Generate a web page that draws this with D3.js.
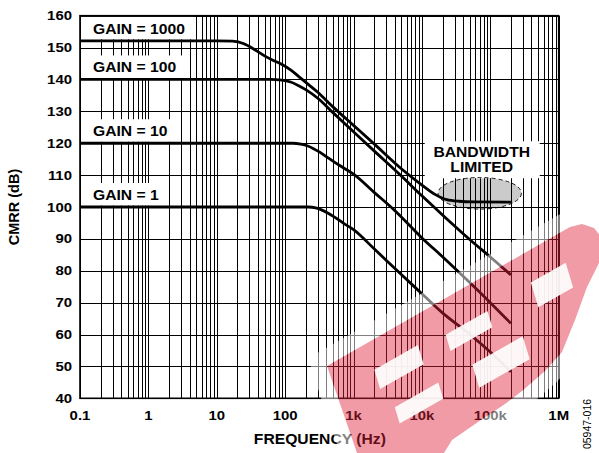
<!DOCTYPE html>
<html>
<head>
<meta charset="utf-8">
<script src="https://cdn.jsdelivr.net/npm/d3@7"></script>
<style>
  html, body { margin: 0; padding: 0; background: #fff; }
  svg { display: block; }
</style>
</head>
<body>
<svg id="chart" width="599" height="453"></svg>
<script>
// ---- data ----------------------------------------------------------
const freqTicks = [0.1, 1, 10, 100, 1e3, 1e4, 1e5, 1e6];
const freqTickLabels = ["0.1", "1", "10", "100", "1k", "10k", "100k", "1M"];
const cmrrTicks = [40, 50, 60, 70, 80, 90, 100, 110, 120, 130, 140, 150, 160];

const seriesLabels = ["GAIN = 1000", "GAIN = 100", "GAIN = 10", "GAIN = 1"];

// [frequency (Hz), CMRR (dB)]
const gain1000 = [[0.1,152.1],[10,152.1],[17,152],[25,151.2],[35,149.5],[50,147.4],[70,145.8],[90,144.7],[120,143],[165,140.6],[220,138.4],[300,136],[500,131.4],[1000,125.6],[2000,119.8],[5000,112],[10000,106.9],[16000,103.8],[23000,102.3],[35000,101.8],[60000,101.6],[200000,101.5]];
const gain100 = [[0.1,140],[60,140],[90,139.8],[120,139.2],[150,138.3],[200,136.8],[300,134.1],[500,129.6],[1000,123.6],[2000,117.6],[5000,109.7],[10000,103.5],[20000,97.5],[50000,89.8],[100000,84.3],[200000,78.7]];
const gain10 = [[0.1,120],[130,120],[170,119.7],[210,119.2],[260,118.3],[320,117.2],[400,115.8],[500,114.4],[700,112.4],[1000,110.3],[2000,104.6],[4000,98.9],[10000,90.3],[20000,84.4],[50000,76.3],[100000,70],[200000,63.5]];
const gain1 = [[0.1,100],[220,100],[280,99.7],[340,99.1],[420,98.1],[520,96.9],[700,95],[1000,92.9],[2000,86.9],[5000,78.8],[10000,72.8],[20000,66.8],[50000,60.1],[100000,54.5],[200000,48.3]];

const allSeries = [gain1000, gain100, gain10, gain1];

// ---- layout --------------------------------------------------------
const W = 599, H = 453;
const plot = { left: 80, right: 558.7, top: 15.7, bottom: 398.3 };
const FONT = "'Liberation Sans', Arial, Helvetica, sans-serif";
const SX = 1.12; // horizontal glyph stretch

const svg = d3.select("#chart");
const x = d3.scaleLog().domain([0.1, 1e6]).range([plot.left, plot.right]);
const y = d3.scaleLinear().domain([40, 160]).range([plot.bottom, plot.top]);

function label(g, px, py, str, size, anchor, weight, sx) {
  return g.append("text")
    .attr("transform", `translate(${px},${py}) scale(${sx},1)`)
    .attr("text-anchor", anchor)
    .attr("font-family", FONT)
    .attr("font-weight", weight)
    .attr("font-size", size)
    .attr("fill", "#000")
    .text(str);
}

// bandwidth-limited highlight (under the grid)
const bwFreq = 70000, bwLevel = 104.3;
svg.append("ellipse")
  .attr("cx", x(bwFreq)).attr("cy", y(bwLevel))
  .attr("rx", 41.7).attr("ry", 15.8)
  .attr("fill", "#cbcbcb");

// ---- grid ----------------------------------------------------------
const grid = svg.append("g").attr("shape-rendering", "crispEdges")
  .attr("stroke", "#000").attr("stroke-width", 1);

const minorFreqs = [];
for (let e = -1; e < 6; e++) for (let m = 1; m < 10; m++) minorFreqs.push(m * Math.pow(10, e));
minorFreqs.push(1e6);
grid.selectAll("line.v").data(minorFreqs).enter().append("line")
  .attr("x1", d => Math.round(x(d)) + 0.5).attr("x2", d => Math.round(x(d)) + 0.5)
  .attr("y1", plot.top).attr("y2", plot.bottom);
grid.selectAll("line.h").data(cmrrTicks).enter().append("line")
  .attr("x1", plot.left).attr("x2", plot.right)
  .attr("y1", d => Math.round(y(d)) + 0.5).attr("y2", d => Math.round(y(d)) + 0.5);

// ---- label boxes ---------------------------------------------------
const labelG = svg.append("g");
allSeries.forEach((s, i) => {
  const flat = s[0][1];
  const base = y(flat) - 7;
  const t = label(labelG, 93, base, seriesLabels[i], 14, "start", "bold", SX);
  const w = t.node().getComputedTextLength() * SX;
  const top = Math.max(plot.top + 1, y(flat) - 24);
  labelG.insert("rect", "text")
    .attr("x", plot.left + 1).attr("y", top)
    .attr("width", 93 + w + 7 - plot.left).attr("height", y(flat) - 1.5 - top)
    .attr("fill", "#fff");
});

// "BANDWIDTH LIMITED" note
const noteG = svg.append("g");
const noteX = x(bwFreq) + 2;
noteG.append("rect")
  .attr("x", noteX - 57).attr("y", y(120) - 2)
  .attr("width", 115).attr("height", 37)
  .attr("fill", "#fff");
label(noteG, noteX, y(120) + 13.4, "BANDWIDTH", 14, "middle", "bold", SX);
label(noteG, noteX, y(120) + 29, "LIMITED", 14, "middle", "bold", SX);

svg.append("ellipse")
  .attr("cx", x(bwFreq)).attr("cy", y(bwLevel))
  .attr("rx", 41.7).attr("ry", 15.8)
  .attr("fill", "none").attr("stroke", "#000")
  .attr("stroke-width", 0.9).attr("stroke-dasharray", "4,3");

// ---- curves --------------------------------------------------------
const line = d3.line()
  .x(d => x(d[0])).y(d => y(d[1]))
  .curve(d3.curveMonotoneX);
svg.append("g").selectAll("path").data(allSeries).enter().append("path")
  .attr("d", line)
  .attr("fill", "none").attr("stroke", "#000")
  .attr("stroke-width", 2.8).attr("stroke-linejoin", "round");

// ---- frame ---------------------------------------------------------
svg.append("rect")
  .attr("x", plot.left).attr("y", plot.top)
  .attr("width", plot.right - plot.left).attr("height", plot.bottom - plot.top)
  .attr("fill", "none").attr("stroke", "#000").attr("stroke-width", 1.6);

// ---- axes labels ---------------------------------------------------
const axisG = svg.append("g");
cmrrTicks.forEach(v => label(axisG, 72, y(v) + 4.6, String(v), 13, "end", "bold", 1.15));
freqTicks.forEach((f, i) => label(axisG, x(f), 419.5, freqTickLabels[i], 13, "middle", "bold", 1.15));
label(axisG, (plot.left + plot.right) / 2 + 0.5, 444, "FREQUENCY (Hz)", 14, "middle", "bold", SX);
axisG.append("text")
  .attr("transform", `translate(19,${(plot.top + plot.bottom) / 2}) rotate(-90)`)
  .attr("text-anchor", "middle")
  .attr("font-family", FONT).attr("font-weight", "bold").attr("font-size", 14.5)
  .text("CMRR (dB)");
axisG.append("text")
  .attr("transform", "translate(591,424) rotate(-90)")
  .attr("text-anchor", "middle")
  .attr("font-family", FONT).attr("font-size", 10.5)
  .text("05947-016");

// ---- stamp overlay -------------------------------------------------
const stampOutline = [[327,366],[570,227],[582,224],[594,228],[602,238],[602,257],[587,287],[575,320],[562,352],[545,371],[522,391],[505,404],[478,422],[452,440],[444,453],[357,453]];
const stampHoles = [
  { c: [399,367], L: 50, T: 20 },
  { c: [419,403], L: 50, T: 17 },
  { c: [469,331], L: 48, T: 17 },
  { c: [501,362], L: 58, T: 24 },
  { c: [552,285], L: 40, T: 26 }
];
const ua = [0.870, -0.493], sa = [0.287, 0.958];
const polyPath = pts => "M" + pts.map(p => p.join(",")).join("L") + "Z";

const defs = svg.append("defs");
const mask = defs.append("mask").attr("id", "stampOut");
mask.append("rect").attr("width", W).attr("height", H).attr("fill", "#fff");
mask.append("path").attr("d", polyPath(stampOutline)).attr("fill", "#000");

const stamp = svg.append("g");
stamp.append("path")
  .attr("d", polyPath(stampOutline))
  .attr("fill", "none").attr("stroke", "#fff")
  .attr("stroke-width", 32).attr("stroke-linejoin", "round")
  .attr("stroke-opacity", 0.5).attr("mask", "url(#stampOut)");
stamp.append("path")
  .attr("d", polyPath(stampOutline))
  .attr("fill", "rgb(222,33,55)").attr("fill-opacity", 0.45);
stampHoles.forEach(h => {
  const pts = [[-1,-1],[1,-1],[1,1],[-1,1]].map(([a, b]) => [
    h.c[0] + a * h.L / 2 * ua[0] + b * h.T / 2 * sa[0],
    h.c[1] + a * h.L / 2 * ua[1] + b * h.T / 2 * sa[1]
  ]);
  stamp.append("path").attr("d", polyPath(pts)).attr("fill", "#fff").attr("fill-opacity", 0.92);
});
</script>
</body>
</html>
